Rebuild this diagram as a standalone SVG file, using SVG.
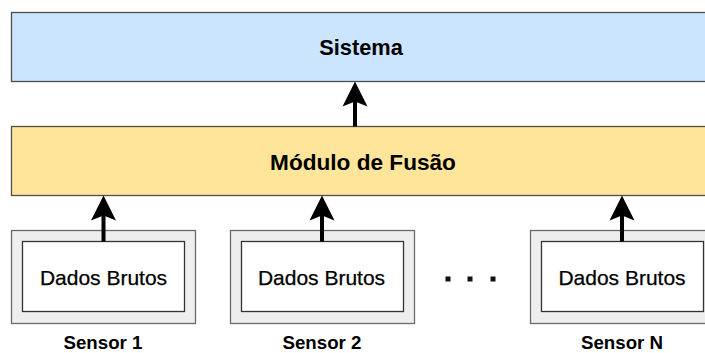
<svg xmlns="http://www.w3.org/2000/svg" width="705" height="353" viewBox="0 0 705 353">
  <style>
    .layer { stroke: #4d4d4d; stroke-width: 1.3; }
    .outer { fill: #eeeeee; stroke: #6b6b6b; stroke-width: 1.3; }
    .inner { fill: #ffffff; stroke: #333333; stroke-width: 1.3; }
    .title { font-family: "Liberation Sans", Arial, sans-serif; font-weight: bold; fill: #000000; text-anchor: middle; }
    .data { font-family: "Liberation Sans", Arial, sans-serif; font-size: 21px; fill: #000000; stroke: #000000; stroke-width: 0.25; text-anchor: middle; }
    .label { font-family: "Liberation Sans", Arial, sans-serif; font-weight: bold; font-size: 18.7px; fill: #000000; text-anchor: middle; }
    .shaft { stroke: #000000; stroke-width: 4; fill: none; }
    .head { fill: #000000; }
  </style>
  <defs>
    <path id="arrowhead" class="head" d="M0,0 L12.5,25 L0,20 L-12.5,25 Z"/>
  </defs>

  <rect width="705" height="353" fill="#ffffff"/>

  <!-- top layer -->
  <g id="sistema">
    <rect class="layer" x="11.5" y="12.5" width="703" height="69" fill="#cce5ff"/>
    <text class="title" x="361" y="55" font-size="21.8">Sistema</text>
  </g>

  <!-- fusion layer -->
  <g id="modulo-fusao">
    <rect class="layer" x="11.5" y="126.5" width="703" height="69" fill="#ffe599"/>
    <text class="title" x="363" y="170" font-size="22.6">Módulo de Fusão</text>
  </g>

  <!-- sensors -->
  <g id="sensor-1">
    <rect class="outer" x="11.5" y="230.5" width="184" height="93"/>
    <rect class="inner" x="22.5" y="241.5" width="162" height="70"/>
    <text class="data" x="103.5" y="285">Dados Brutos</text>
    <text class="label" x="103" y="349.3">Sensor 1</text>
  </g>

  <g id="sensor-2">
    <rect class="outer" x="230.5" y="230.5" width="184" height="93"/>
    <rect class="inner" x="241.5" y="241.5" width="162" height="70"/>
    <text class="data" x="321.5" y="285">Dados Brutos</text>
    <text class="label" x="322" y="349.3">Sensor 2</text>
  </g>

  <g id="ellipsis">
    <rect x="445.5" y="276.5" width="5" height="5" fill="#111111"/>
    <rect x="467.5" y="276.5" width="5" height="5" fill="#111111"/>
    <rect x="490.5" y="276.5" width="5" height="5" fill="#111111"/>
  </g>

  <g id="sensor-n">
    <rect class="outer" x="530.5" y="230.5" width="184" height="93"/>
    <rect class="inner" x="541.5" y="241.5" width="162" height="70"/>
    <text class="data" x="622" y="285">Dados Brutos</text>
    <text class="label" x="622" y="349.3">Sensor N</text>
  </g>

  <!-- connectors -->
  <g id="connectors">
    <line class="shaft" x1="355" y1="126.5" x2="355" y2="98"/>
    <use href="#arrowhead" x="355" y="81.5"/>

    <line class="shaft" x1="103.5" y1="241.5" x2="103.5" y2="213"/>
    <use href="#arrowhead" x="103.5" y="195.5"/>

    <line class="shaft" x1="322" y1="241.5" x2="322" y2="213"/>
    <use href="#arrowhead" x="322" y="195.5"/>

    <line class="shaft" x1="622" y1="241.5" x2="622" y2="213"/>
    <use href="#arrowhead" x="622" y="195.5"/>
  </g>
</svg>
